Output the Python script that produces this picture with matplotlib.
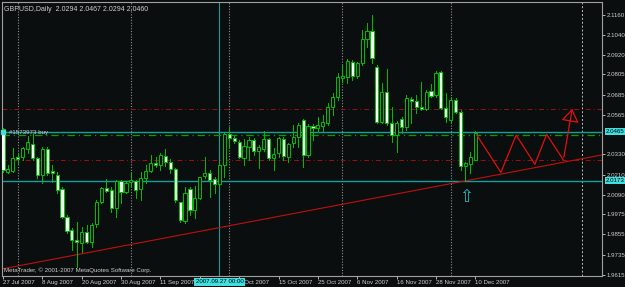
import numpy as np
import pandas as pd
import matplotlib
matplotlib.use('Agg')
import matplotlib.pyplot as plt
from matplotlib.patches import Rectangle
from matplotlib.transforms import blended_transform_factory

plt.rcParams['font.family'] = ['Liberation Sans Narrow', 'Liberation Sans', 'DejaVu Sans']

# 1. Daily GBPUSD bars
dates = pd.bdate_range('2007-07-27', periods=97)
opens = [2.0479, 2.0223, 2.0233, 2.0316, 2.0312, 2.0360, 2.0390, 2.0307, 2.0208, 2.0362,
         2.0231, 2.0208, 2.0122, 1.9960, 1.9881, 1.9821, 1.9802, 1.9871, 1.9812, 1.9916,
         2.0049, 2.0128, 2.0118, 2.0010, 2.0172, 2.0108, 2.0168, 2.0172, 2.0122, 2.0188,
         2.0231, 2.0277, 2.0267, 2.0323, 2.0287, 2.0242, 2.0045, 1.9935, 2.0123, 2.0000,
         2.0069, 2.0204, 2.0218, 2.0184, 2.0152, 2.0267, 2.0451, 2.0426, 2.0406, 2.0307,
         2.0376, 2.0416, 2.0352, 2.0360, 2.0420, 2.0311, 2.0341, 2.0422, 2.0317, 2.0396,
         2.0432, 2.0535, 2.0327, 2.0499, 2.0485, 2.0501, 2.0515, 2.0614, 2.0669, 2.0786,
         2.0792, 2.0881, 2.0796, 2.0871, 2.1014, 2.1065, 2.0851, 2.0525, 2.0703, 2.0515,
         2.0446, 2.0539, 2.0495, 2.0659, 2.0647, 2.0614, 2.0598, 2.0707, 2.0683, 2.0818,
         2.0604, 2.0535, 2.0653, 2.0584, 2.0261, 2.0273, 2.0294]
highs = [2.0485, 2.0267, 2.0366, 2.0336, 2.0376, 2.0439, 2.0449, 2.0316, 2.0376, 2.0376,
         2.0267, 2.0227, 2.0134, 1.9970, 1.9891, 1.9930, 1.9901, 1.9910, 1.9924, 2.0059,
         2.0134, 2.0182, 2.0134, 2.0178, 2.0178, 2.0168, 2.0227, 2.0178, 2.0227, 2.0267,
         2.0326, 2.0316, 2.0336, 2.0360, 2.0301, 2.0247, 2.0050, 2.0135, 2.0139, 2.0143,
         2.0198, 2.0313, 2.0238, 2.0198, 2.0277, 2.0459, 2.0495, 2.0440, 2.0416, 2.0420,
         2.0432, 2.0426, 2.0386, 2.0471, 2.0426, 2.0366, 2.0436, 2.0432, 2.0400, 2.0505,
         2.0515, 2.0539, 2.0509, 2.0511, 2.0550, 2.0564, 2.0634, 2.0693, 2.0816, 2.0861,
         2.0895, 2.0891, 2.0881, 2.1069, 2.1109, 2.1158, 2.0861, 2.0752, 2.0836, 2.0614,
         2.0529, 2.0554, 2.0683, 2.0673, 2.0683, 2.0762, 2.0713, 2.0748, 2.0826, 2.0826,
         2.0693, 2.0669, 2.0663, 2.0594, 2.0287, 2.0347, 2.0467]
lows = [2.0227, 2.0217, 2.0227, 2.0277, 2.0297, 2.0336, 2.0297, 2.0188, 2.0158, 2.0208,
        2.0168, 2.0099, 1.9950, 1.9861, 1.9762, 1.9661, 1.9752, 1.9802, 1.9782, 1.9901,
        2.0039, 2.0108, 1.9990, 1.9960, 2.0039, 2.0099, 2.0138, 2.0069, 2.0059, 2.0158,
        2.0227, 2.0257, 2.0237, 2.0261, 2.0218, 2.0050, 1.9928, 1.9925, 1.9970, 1.9951,
        2.0063, 2.0188, 2.0079, 2.0099, 2.0139, 2.0198, 2.0366, 2.0396, 2.0307, 2.0267,
        2.0297, 2.0327, 2.0247, 2.0352, 2.0297, 2.0238, 2.0317, 2.0297, 2.0287, 2.0372,
        2.0372, 2.0253, 2.0317, 2.0416, 2.0465, 2.0471, 2.0505, 2.0564, 2.0653, 2.0762,
        2.0756, 2.0772, 2.0782, 2.0861, 2.0966, 2.0871, 2.0515, 2.0515, 2.0505, 2.0406,
        2.0347, 2.0455, 2.0475, 2.0515, 2.0574, 2.0594, 2.0594, 2.0669, 2.0673, 2.0598,
        2.0525, 2.0515, 2.0574, 2.0238, 2.0173, 2.0218, 2.0294]
closes = [2.0237, 2.0243, 2.0307, 2.0303, 2.0366, 2.0406, 2.0307, 2.0208, 2.0360, 2.0221,
          2.0221, 2.0118, 1.9960, 1.9875, 1.9821, 1.9812, 1.9871, 1.9812, 1.9910, 2.0049,
          2.0128, 2.0114, 2.0010, 2.0172, 2.0108, 2.0158, 2.0178, 2.0118, 2.0188, 2.0231,
          2.0277, 2.0267, 2.0326, 2.0287, 2.0246, 2.0059, 1.9940, 2.0100, 2.0000, 2.0069,
          2.0194, 2.0218, 2.0178, 2.0152, 2.0267, 2.0451, 2.0426, 2.0410, 2.0313, 2.0380,
          2.0416, 2.0352, 2.0372, 2.0420, 2.0307, 2.0331, 2.0426, 2.0321, 2.0392, 2.0436,
          2.0505, 2.0327, 2.0501, 2.0489, 2.0505, 2.0525, 2.0614, 2.0669, 2.0788, 2.0796,
          2.0885, 2.0796, 2.0871, 2.1014, 2.1065, 2.0901, 2.0525, 2.0703, 2.0515, 2.0446,
          2.0519, 2.0495, 2.0663, 2.0647, 2.0614, 2.0600, 2.0703, 2.0679, 2.0816, 2.0604,
          2.0550, 2.0653, 2.0584, 2.0261, 2.0277, 2.0317, 2.0460]

# chart objects (bar index / price)
price_ticks = [2.1160, 2.1040, 2.0920, 2.0805, 2.0685, 2.0565, 2.0330, 2.0210,
               2.0090, 1.9975, 1.9855, 1.9735, 1.9615]
hline_cyan = [2.0465, 2.0173]
hline_red = [2.0600, 2.0295]
order_price = 2.0443
separators = [3, 26, 46, 69, 91]
future_vline = 117.6
cyan_vline = 44
trend_x = [0, 94]
trend_y = [1.9651, 2.0173]
zig_x = [96.3, 101.2, 104.3, 108.1, 110.5, 113.9]
zig_y = [2.0445, 2.0223, 2.0445, 2.0271, 2.0449, 2.0297]
zig_tip = (115.8, 2.0617)
signal_x, signal_y = 94.2, 2.0075

bg = '#0a0e0e'
green = '#00c000'
cyan = '#20c0c0'
fg = '#d0d0d0'
fs = 4.4

# 2. Figure
fig = plt.figure(figsize=(6.25, 2.87), dpi=100, facecolor=bg)
ax = fig.add_axes([2 / 625, 11 / 287, 600 / 625, 274 / 287], facecolor=bg)
ax.set_xlim(-0.2, 121.75)
ax.set_ylim(1.9608, 2.1235)

# separators and objects behind the candles
for s in separators:
    ax.axvline(s, color='#909090', lw=0.8, ls=(0, (1, 1.5)), zorder=1)
ax.axvline(future_vline, color='#c0c0c0', lw=0.7, ls=(0, (2, 2)), zorder=1)
ax.axvline(cyan_vline, color='#10a0a0', lw=0.8, zorder=1)
for p in hline_red:
    ax.axhline(p, color='#a01010', lw=0.7, ls=(0, (5, 3, 1, 3)), zorder=1)
ax.axhline(order_price, color='#00a000', lw=0.9, ls=(0, (6, 3, 1, 3)), zorder=1)
for p in hline_cyan:
    ax.axhline(p, color='#10a0a0', lw=1.0, zorder=1)

trend_slope = (trend_y[1] - trend_y[0]) / (trend_x[1] - trend_x[0])
ax.axline((trend_x[0], trend_y[0]), slope=trend_slope, color='#c01010', lw=0.8, zorder=2)

# 3. Candles
idx = np.arange(len(opens))
for i in idx:
    o, h, l, c = opens[i], highs[i], lows[i], closes[i]
    ax.plot([i, i], [l, h], color=green, lw=0.7, zorder=3)
    bear = c < o
    ax.add_patch(Rectangle((i - 0.32, min(o, c)), 0.64, max(abs(c - o), 0.0002),
                           facecolor='#f4fff4' if bear else bg, edgecolor=green,
                           lw=0.7, zorder=4))

# forecast zigzag and signal arrow
ax.plot(zig_x, zig_y, color='#e01010', lw=0.9, zorder=5)
ax.annotate('', xy=zig_tip, xytext=(zig_x[-1], zig_y[-1]),
            arrowprops=dict(arrowstyle='-|>,head_length=0.8,head_width=0.55',
                            fc='none', ec='#e01010', lw=0.9), zorder=5)
ax.text(signal_x, signal_y, '\u21e7', color=cyan, fontsize=12, ha='center', va='center',
        family='DejaVu Sans', zorder=6)

# 4. Axes styling
for side in ['left', 'top', 'right', 'bottom']:
    ax.spines[side].set_color('#a0a0a0')
    ax.spines[side].set_linewidth(0.8)

ax.yaxis.tick_right()
ax.set_yticks(price_ticks)
ax.set_yticklabels([f'{p:.4f}' for p in price_ticks])
ax.tick_params(axis='y', colors=fg, labelsize=fs, length=2, width=0.6, pad=1.5)

xt = idx[::8]
ax.set_xticks(xt)
ax.set_xticklabels([d.strftime('%d %b %Y').lstrip('0') for d in dates[xt]], ha='left')
ax.tick_params(axis='x', colors=fg, labelsize=fs, length=2, width=0.6, pad=1)

# highlighted price / time labels
tr_y = blended_transform_factory(ax.transAxes, ax.transData)
for p in hline_cyan:
    ax.text(1.006, p, f'{p:.4f}', transform=tr_y, color='black', fontsize=fs,
            va='center', ha='left', clip_on=False, zorder=10,
            bbox=dict(boxstyle='square,pad=0.15', fc='#40e0e0', ec='none'))
tr_x = blended_transform_factory(ax.transData, ax.transAxes)
ax.text(cyan_vline, -0.012, dates[cyan_vline].strftime('%Y.%m.%d 00:00'), transform=tr_x,
        color='black', fontsize=fs, ha='center', va='top', clip_on=False, zorder=10,
        bbox=dict(boxstyle='square,pad=0.2', fc='#40e0e0', ec='none'))

# texts
ax.text(0.004, 0.985, 'GBPUSD,Daily  2.0294 2.0467 2.0294 2.0460', transform=ax.transAxes,
        color=fg, fontsize=5.0, va='top', ha='left')
ax.text(1.2, order_price + 0.0005, '#1573973 buy', color=fg, fontsize=fs, va='bottom',
        ha='left', zorder=6)
ax.plot([0.1], [hline_cyan[0]], marker='s', ms=2.5, color='#40e0e0', zorder=6, clip_on=False)
ax.text(0.004, 0.012, 'MetaTrader, \u00a9 2001-2007 MetaQuotes Software Corp.',
        transform=ax.transAxes, color=fg, fontsize=fs, va='bottom', ha='left', zorder=6)

plt.savefig('out.png', dpi=100, facecolor=bg)
